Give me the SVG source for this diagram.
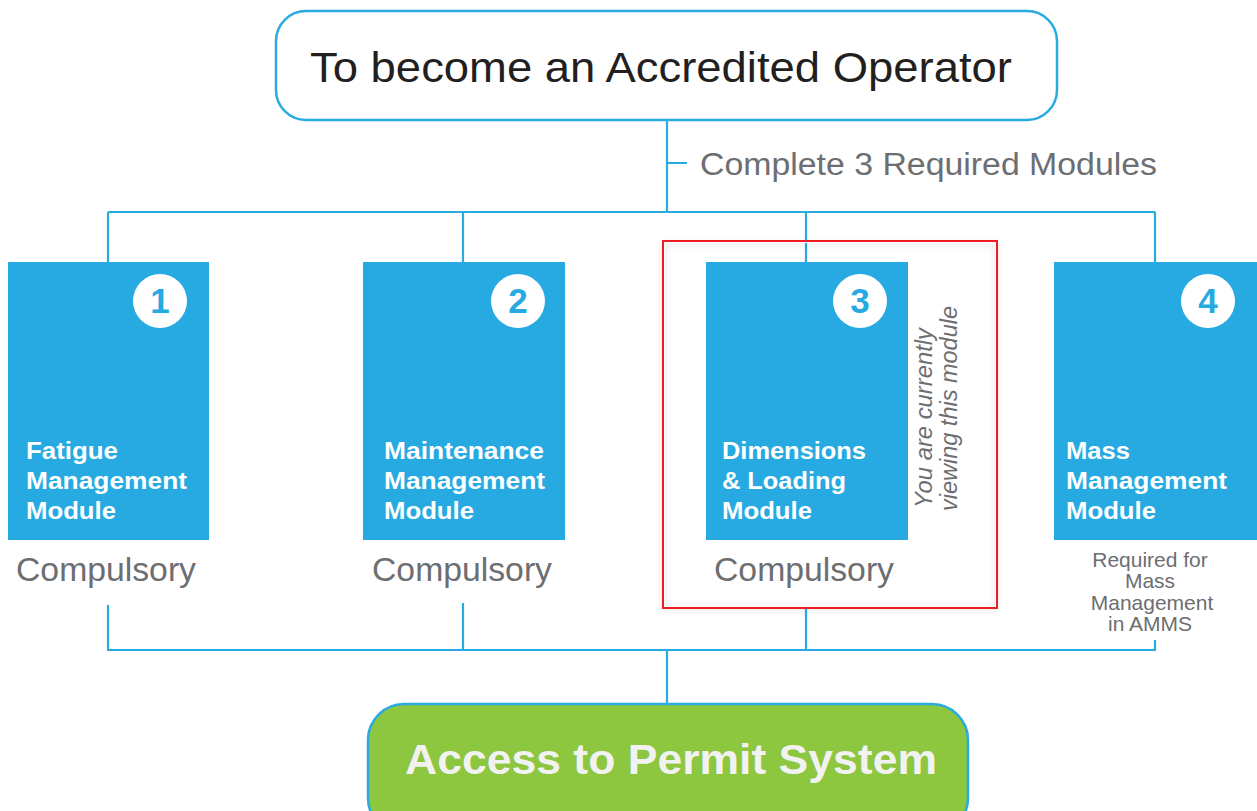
<svg xmlns="http://www.w3.org/2000/svg" width="1257" height="811" viewBox="0 0 1257 811">
<defs>
<style>
.ln{stroke:#29abe2;stroke-width:2.2;fill:none}
.mod{fill:#27aae1}
.num{font-family:"Liberation Sans",Arial,sans-serif;font-weight:bold;font-size:35px;fill:#27aae1;text-anchor:middle}
.mt{font-family:"Liberation Sans",Arial,sans-serif;font-weight:bold;font-size:24.5px;fill:#ffffff}
.cmp{font-family:"Liberation Sans",Arial,sans-serif;font-size:33px;fill:#6d6e71}
.req{font-family:"Liberation Sans",Arial,sans-serif;font-size:21px;fill:#6d6e71;text-anchor:middle}
.rot{font-family:"Liberation Sans",Arial,sans-serif;font-style:italic;font-size:23.5px;fill:#6d6e71}
</style>
<filter id="sh" x="-5%" y="-5%" width="110%" height="110%">
<feDropShadow dx="0" dy="2" stdDeviation="3" flood-color="#000" flood-opacity="0.18"/>
</filter>
</defs>
<rect width="1257" height="811" fill="#ffffff"/>

<g id="connectors">
<path class="ln" d="M667 121 V212 M667 163 H687 M108 212 H1155 M108 212 V262 M463 212 V262 M806 212 V262 M1155 212 V262"/>
<path class="ln" d="M108 605 V650 H1155 V640 M463 603 V650 M806 608 V650 M667 650 V704"/>
</g>

<g id="highlight">
<rect x="664" y="242" width="332" height="365" fill="none" stroke="#ffffff" stroke-width="2" filter="url(#sh)"/>
<rect x="663" y="241" width="334" height="367" fill="none" stroke="#ee1c24" stroke-width="2"/>
<text class="rot" transform="translate(932,508) rotate(-90)" textLength="180" lengthAdjust="spacingAndGlyphs">You are currently</text>
<text class="rot" transform="translate(957,511) rotate(-90)" textLength="205" lengthAdjust="spacingAndGlyphs">viewing this module</text>
</g>

<g id="top">
<rect x="276" y="11" width="781" height="109" rx="30" fill="#ffffff" stroke="#29abe2" stroke-width="2.5"/>
<text x="661" y="82" text-anchor="middle" font-family="Liberation Sans, Arial, sans-serif" font-size="43" fill="#231f20" textLength="702" lengthAdjust="spacingAndGlyphs">To become an Accredited Operator</text>
</g>

<g id="label-required">
<text x="700" y="175" font-family="Liberation Sans, Arial, sans-serif" font-size="31" fill="#6d6e71" textLength="457" lengthAdjust="spacingAndGlyphs">Complete 3 Required Modules</text>
</g>

<g id="module1">
<rect class="mod" x="8" y="262" width="201" height="278"/>
<circle cx="160" cy="301" r="27" fill="#ffffff"/>
<text class="num" x="160" y="313">1</text>
<text class="mt" x="26" y="459" textLength="92" lengthAdjust="spacingAndGlyphs">Fatigue</text>
<text class="mt" x="26" y="489" textLength="161" lengthAdjust="spacingAndGlyphs">Management</text>
<text class="mt" x="26" y="519" textLength="90" lengthAdjust="spacingAndGlyphs">Module</text>
<text class="cmp" x="16" y="581" textLength="180" lengthAdjust="spacingAndGlyphs">Compulsory</text>
</g>

<g id="module2">
<rect class="mod" x="363" y="262" width="202" height="278"/>
<circle cx="518" cy="301" r="27" fill="#ffffff"/>
<text class="num" x="518" y="313">2</text>
<text class="mt" x="384" y="459" textLength="160" lengthAdjust="spacingAndGlyphs">Maintenance</text>
<text class="mt" x="384" y="489" textLength="161" lengthAdjust="spacingAndGlyphs">Management</text>
<text class="mt" x="384" y="519" textLength="90" lengthAdjust="spacingAndGlyphs">Module</text>
<text class="cmp" x="372" y="581" textLength="180" lengthAdjust="spacingAndGlyphs">Compulsory</text>
</g>

<g id="module3">
<rect class="mod" x="706" y="262" width="202" height="278"/>
<circle cx="860" cy="301" r="27" fill="#ffffff"/>
<text class="num" x="860" y="313">3</text>
<text class="mt" x="722" y="459" textLength="144" lengthAdjust="spacingAndGlyphs">Dimensions</text>
<text class="mt" x="722" y="489" textLength="124" lengthAdjust="spacingAndGlyphs">&amp; Loading</text>
<text class="mt" x="722" y="519" textLength="90" lengthAdjust="spacingAndGlyphs">Module</text>
<text class="cmp" x="714" y="581" textLength="180" lengthAdjust="spacingAndGlyphs">Compulsory</text>
</g>

<g id="module4">
<rect class="mod" x="1054" y="262" width="203" height="278"/>
<circle cx="1208" cy="301" r="27" fill="#ffffff"/>
<text class="num" x="1208" y="313">4</text>
<text class="mt" x="1066" y="459" textLength="64" lengthAdjust="spacingAndGlyphs">Mass</text>
<text class="mt" x="1066" y="489" textLength="161" lengthAdjust="spacingAndGlyphs">Management</text>
<text class="mt" x="1066" y="519" textLength="90" lengthAdjust="spacingAndGlyphs">Module</text>
<text class="req" x="1150" y="567">Required for</text>
<text class="req" x="1150" y="588">Mass</text>
<text class="req" x="1152" y="610">Management</text>
<text class="req" x="1150" y="631">in AMMS</text>
</g>

<g id="bottom">
<rect x="368" y="704" width="600" height="130" rx="36" fill="#8dc63f" stroke="#29abe2" stroke-width="2.5"/>
<text x="671" y="774" text-anchor="middle" font-family="Liberation Sans, Arial, sans-serif" font-weight="bold" font-size="43" fill="#f2f2f2" textLength="532" lengthAdjust="spacingAndGlyphs">Access to Permit System</text>
</g>
</svg>
